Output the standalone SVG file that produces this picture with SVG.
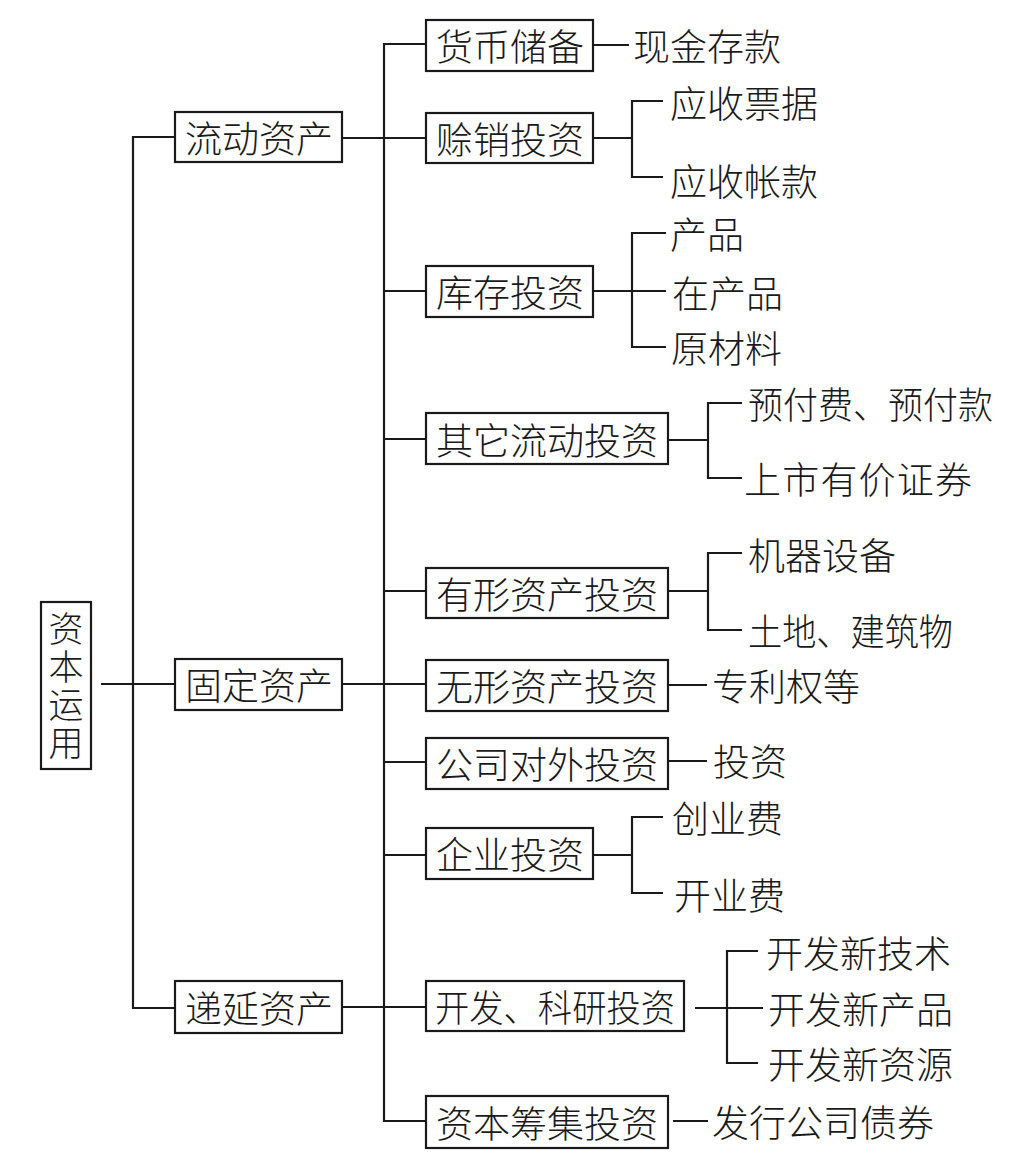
<svg xmlns="http://www.w3.org/2000/svg" width="1015" height="1165" viewBox="0 0 1015 1165">
<style>
.bg{fill:#ffffff}
.box{fill:#ffffff;stroke:#1a1a1a;stroke-width:2.2}
.ln{fill:none;stroke:#1a1a1a;stroke-width:2.2}
text{font-family:"Noto Sans CJK SC","Noto Sans CJK TC",sans-serif;font-size:37px;fill:#1a1a1a;dominant-baseline:central;font-weight:300}
.c{text-anchor:middle}
.v{font-size:35px;writing-mode:vertical-rl;letter-spacing:3px}
</style>
<rect class="bg" x="0" y="0" width="1015" height="1165"/>
<g id="connectors">
<path class="ln" d="M101,684 H175"/>
<path class="ln" d="M175,137 H133 V1008 H175"/>
<path class="ln" d="M342,138 H426"/>
<path class="ln" d="M342,684 H426"/>
<path class="ln" d="M342,1007 H426"/>
<path class="ln" d="M426,44 H384 V1121 H426"/>
<path class="ln" d="M384,291 H426 M384,439 H426 M384,591 H426 M384,762 H426 M384,855 H426"/>
<path class="ln" d="M593,45 H629"/>
<path class="ln" d="M593,138 H632 M663,101 H632 V177 H663"/>
<path class="ln" d="M593,291 H666 M666,233 H632 V347 H666"/>
<path class="ln" d="M668,440 H708 M742,403 H708 V478 H742"/>
<path class="ln" d="M668,591 H708 M742,553 H708 V630 H742"/>
<path class="ln" d="M668,685 H707"/>
<path class="ln" d="M668,761 H707"/>
<path class="ln" d="M593,855 H632 M663,817 H632 V893 H663"/>
<path class="ln" d="M695,1008 H763 M758,951 H727 V1063 H758"/>
<path class="ln" d="M673,1121 H708"/>
</g>
<g id="root">
<rect class="box" x="41" y="602" width="50" height="167"/>
<text class="v" x="66" y="611">资本运用</text>
</g>
<g id="n-liudong"><rect class="box" x="175" y="112" width="167" height="50"/><text class="c" x="259" y="137">流动资产</text></g>
<g id="n-guding"><rect class="box" x="175" y="659" width="167" height="51"/><text class="c" x="259" y="684">固定资产</text></g>
<g id="n-diyan"><rect class="box" x="175" y="981" width="167" height="52"/><text class="c" x="259" y="1007">递延资产</text></g>
<g id="n-huobi"><rect class="box" x="426" y="20" width="167" height="51"/><text class="c" x="510" y="45">货币储备</text></g>
<g id="n-shexiao"><rect class="box" x="426" y="113" width="167" height="50"/><text class="c" x="510" y="138">赊销投资</text></g>
<g id="n-kucun"><rect class="box" x="426" y="266" width="167" height="51"/><text class="c" x="510" y="291">库存投资</text></g>
<g id="n-qita"><rect class="box" x="426" y="413" width="242" height="51"/><text class="c" x="547" y="439">其它流动投资</text></g>
<g id="n-youxing"><rect class="box" x="426" y="568" width="242" height="50"/><text class="c" x="547" y="593">有形资产投资</text></g>
<g id="n-wuxing"><rect class="box" x="426" y="660" width="242" height="51"/><text class="c" x="547" y="685">无形资产投资</text></g>
<g id="n-gongsi"><rect class="box" x="426" y="738" width="242" height="51"/><text class="c" x="547" y="763">公司对外投资</text></g>
<g id="n-qiye"><rect class="box" x="426" y="828" width="167" height="51"/><text class="c" x="510" y="853">企业投资</text></g>
<g id="n-kaifa"><rect class="box" x="426" y="981" width="258" height="50"/><text class="c" x="555" y="1006" textLength="240" lengthAdjust="spacingAndGlyphs">开发、科研投资</text></g>
<g id="n-ziben"><rect class="box" x="426" y="1096" width="242" height="52"/><text class="c" x="547" y="1122">资本筹集投资</text></g>
<g id="leaves">
<text x="633" y="45">现金存款</text>
<text x="670" y="102">应收票据</text>
<text x="670" y="180">应收帐款</text>
<text x="670" y="233">产品</text>
<text x="672" y="292">在产品</text>
<text x="671" y="347">原材料</text>
<text x="748" y="403" textLength="245" lengthAdjust="spacingAndGlyphs">预付费、预付款</text>
<text x="744" y="478" textLength="228" lengthAdjust="spacing">上市有价证券</text>
<text x="748" y="554">机器设备</text>
<text x="748" y="630" textLength="205" lengthAdjust="spacingAndGlyphs">土地、建筑物</text>
<text x="712" y="685">专利权等</text>
<text x="713" y="760">投资</text>
<text x="672" y="817">创业费</text>
<text x="674" y="894">开业费</text>
<text x="766" y="952">开发新技术</text>
<text x="768" y="1008">开发新产品</text>
<text x="768" y="1063">开发新资源</text>
<text x="712" y="1121">发行公司债券</text>
</g>
</svg>
